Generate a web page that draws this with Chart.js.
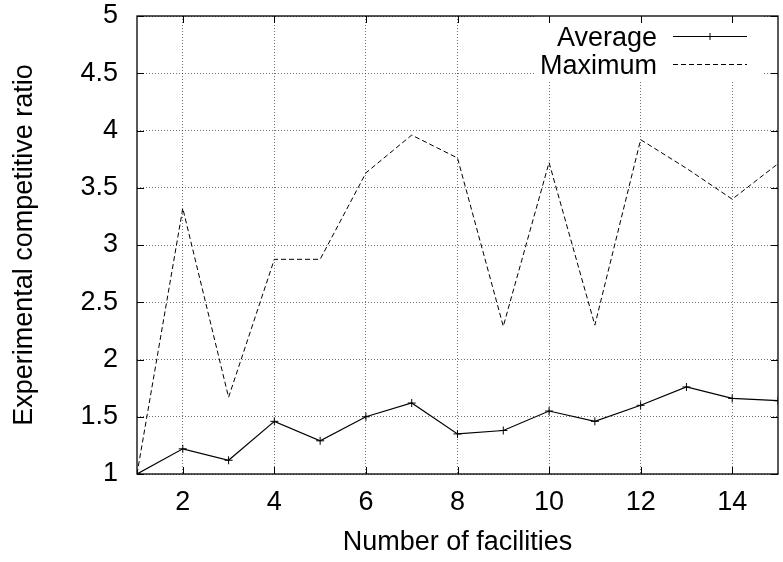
<!DOCTYPE html>
<html>
<head>
<meta charset="utf-8">
<script src="https://cdn.jsdelivr.net/npm/chart.js@4.4.1/dist/chart.umd.min.js"></script>
<style>
  html, body { margin: 0; padding: 0; background: #fff; }
  #wrap { width: 783px; height: 562px; }
</style>
</head>
<body>
<div id="wrap"><canvas id="chart" width="783" height="562"></canvas></div>
<script>
// values
const facilities = [1, 2, 3, 4, 5, 6, 7, 8, 9, 10, 11, 12, 13, 14, 15];
const averageRatio = [1.00, 1.22, 1.12, 1.46, 1.29, 1.50, 1.62, 1.35, 1.38, 1.55, 1.46, 1.60, 1.76, 1.66, 1.64];
const maximumRatio = [1.00, 3.32, 1.67, 2.875, 2.875, 3.63, 3.96, 3.76, 2.29, 3.72, 2.30, 3.92, 3.67, 3.40, 3.71];
const xTicks = [2, 4, 6, 8, 10, 12, 14];
const yTicks = [1, 1.5, 2, 2.5, 3, 3.5, 4, 4.5, 5];

const FONT = 'Liberation Sans, Arial, Helvetica, sans-serif';

function toPoints(values) {
    return facilities.map((f, i) => ({ x: f, y: values[i] }));
}

// gnuplot-style key (text right aligned, sample to its right), then the frame with inward ticks
const framePlugin = {
    id: 'frame',
    afterDatasetsDraw(chart) {
        const { ctx, chartArea: a, scales } = chart;
        ctx.save();

        // key
        const textRight = 657;
        const lineFrom = 673;
        const lineTo = 747;
        ctx.fillStyle = '#fff';
        ctx.fillRect(536, a.top, 228, 64);
        ctx.font = '27px ' + FONT;
        ctx.textAlign = 'right';
        ctx.textBaseline = 'alphabetic';
        chart.data.datasets.forEach((ds, i) => {
            const base = 46 + i * 28;
            const mid = 36.5 + i * 28;
            ctx.fillStyle = '#000';
            ctx.fillText(ds.label, textRight, base);
            ctx.strokeStyle = '#000';
            ctx.lineWidth = 1;
            ctx.setLineDash(ds.borderDash || []);
            ctx.beginPath();
            ctx.moveTo(lineFrom, mid);
            ctx.lineTo(lineTo, mid);
            ctx.stroke();
            ctx.setLineDash([]);
            if (ds.pointStyle === 'cross') {
                const cx = (lineFrom + lineTo) / 2;
                ctx.beginPath();
                ctx.moveTo(cx - 3.5, mid); ctx.lineTo(cx + 3.5, mid);
                ctx.moveTo(cx, mid - 3.5); ctx.lineTo(cx, mid + 3.5);
                ctx.stroke();
            }
        });

        // ticks and frame
        ctx.strokeStyle = '#000';
        ctx.lineWidth = 1;
        ctx.beginPath();
        xTicks.forEach(t => {
            const px = Math.round(scales.x.getPixelForValue(t)) + 0.5;
            ctx.moveTo(px, a.bottom); ctx.lineTo(px, a.bottom - 7);
            ctx.moveTo(px, a.top); ctx.lineTo(px, a.top + 7);
        });
        yTicks.forEach(t => {
            const py = Math.round(scales.y.getPixelForValue(t)) + 0.5;
            ctx.moveTo(a.left, py); ctx.lineTo(a.left + 7, py);
            ctx.moveTo(a.right, py); ctx.lineTo(a.right - 7, py);
        });
        ctx.stroke();
        ctx.lineWidth = 1.3;
        ctx.strokeRect(a.left, a.top, a.right - a.left, a.bottom - a.top);
        ctx.restore();
    }
};

const ctx = document.getElementById('chart').getContext('2d');
new Chart(ctx, {
    type: 'line',
    data: {
        datasets: [
            {
                label: 'Average',
                data: toPoints(averageRatio),
                borderColor: '#000',
                borderWidth: 1.2,
                pointStyle: 'cross',
                pointRadius: 4,
                pointBorderWidth: 1,
                pointBorderColor: '#000',
                fill: false,
                tension: 0
            },
            {
                label: 'Maximum',
                data: toPoints(maximumRatio),
                borderColor: '#000',
                borderWidth: 1,
                borderDash: [5, 3],
                pointRadius: 0,
                fill: false,
                tension: 0
            }
        ]
    },
    options: {
        responsive: false,
        animation: false,
        devicePixelRatio: 1,
        layout: { padding: { top: 16, right: 3, left: 0, bottom: 0 } },
        plugins: {
            legend: { display: false },
            tooltip: { enabled: false }
        },
        scales: {
            x: {
                type: 'linear',
                min: 1,
                max: 15,
                afterBuildTicks(scale) {
                    scale.ticks = xTicks.map(v => ({ value: v }));
                },
                afterFit(scale) {
                    scale.height = 88;
                    scale.paddingLeft = 0;
                    scale.paddingRight = 0;
                },
                grid: {
                    color: 'rgba(0,0,0,0.55)',
                    lineWidth: 1,
                    drawTicks: false
                },
                border: { display: false, dash: [1, 2] },
                ticks: {
                    color: '#000',
                    font: { family: FONT, size: 27 },
                    padding: 12,
                    maxRotation: 0,
                    callback: v => String(v)
                },
                title: {
                    display: true,
                    text: 'Number of facilities',
                    color: '#000',
                    font: { family: FONT, size: 27 },
                    padding: { top: 0, bottom: 3 }
                }
            },
            y: {
                type: 'linear',
                min: 1,
                max: 5,
                afterBuildTicks(scale) {
                    scale.ticks = yTicks.map(v => ({ value: v }));
                },
                afterFit(scale) {
                    scale.width = 137;
                    scale.paddingTop = 0;
                    scale.paddingBottom = 0;
                },
                grid: {
                    color: 'rgba(0,0,0,0.55)',
                    lineWidth: 1,
                    drawTicks: false
                },
                border: { display: false, dash: [1, 2] },
                ticks: {
                    color: '#000',
                    font: { family: FONT, size: 27 },
                    padding: 19,
                    callback: v => String(v)
                },
                title: {
                    display: true,
                    text: 'Experimental competitive ratio',
                    color: '#000',
                    font: { family: FONT, size: 27 },
                    padding: { top: 8, bottom: 0 }
                }
            }
        }
    },
    plugins: [framePlugin]
});
</script>
</body>
</html>
